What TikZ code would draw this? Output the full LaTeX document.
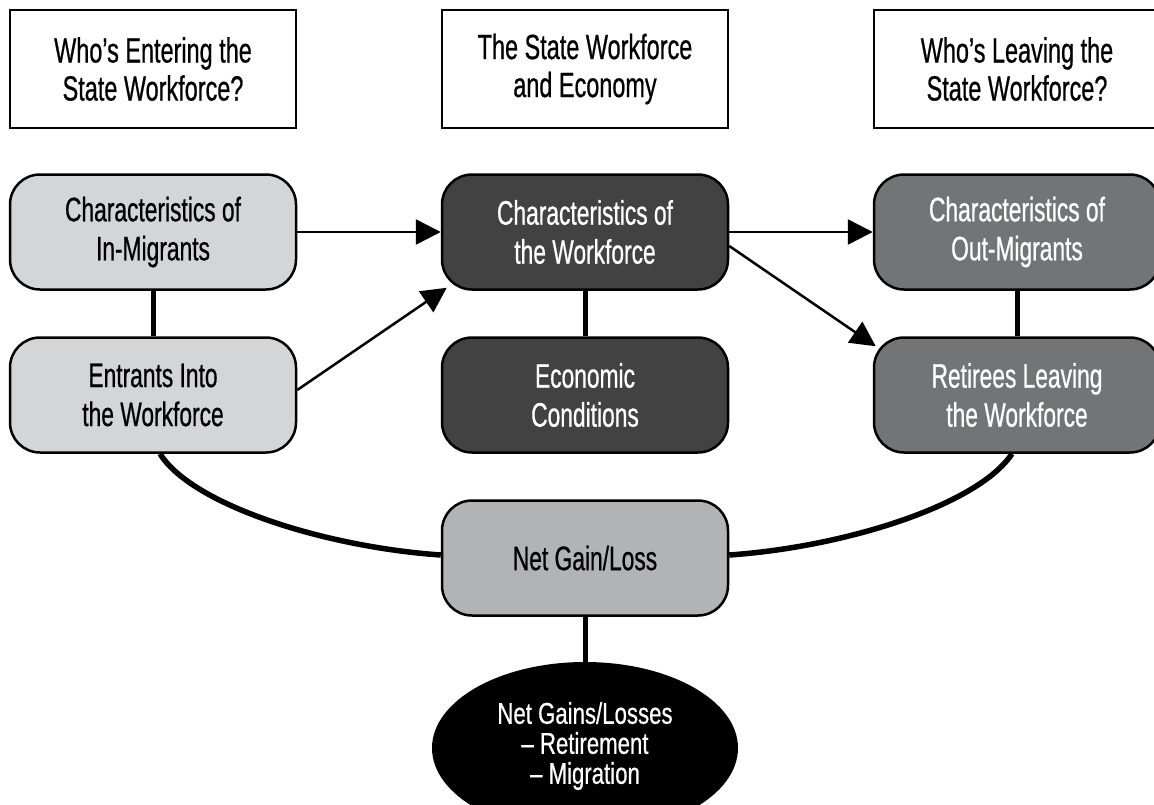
\documentclass[tikz,border=0pt]{standalone}
\usepackage{fontspec}
\setmainfont{Liberation Sans}[FakeStretch=0.67,FakeBold=0.6]
\newfontfamily\ellfont{Liberation Sans}[FakeStretch=0.74,FakeBold=0.6]
\usetikzlibrary{arrows.meta,shapes.geometric}
\definecolor{lgray}{HTML}{D4D5D7}
\definecolor{dgray}{HTML}{424242}
\definecolor{mgray}{HTML}{737476}
\definecolor{ngray}{HTML}{B1B3B5}
\begin{document}
\begin{tikzpicture}[x=1pt,y=-1pt,
  hdr/.style={draw,line width=2.5pt,fill=white,minimum width=286pt,minimum height=118pt,inner sep=0pt,align=center,font=\fontsize{35}{38}\selectfont},
  rbox/.style={draw,line width=2.5pt,rounded corners=30pt,minimum width=286pt,minimum height=115pt,inner sep=0pt,align=center,font=\fontsize{34}{39}\selectfont},
  arr/.style={line width=2.5pt,-{Triangle[length=25pt,width=25pt]}},
  link/.style={line width=5pt},
  curvelink/.style={line width=5.5pt}
]
\useasboundingbox (0,0) rectangle (1154,804);
% headers
\node[hdr] (h1) at (153,69) {Who’s Entering the\\State Workforce?};
\node[hdr] (h2) at (585,69) {The State Workforce\\and Economy};
\node[hdr] (h3) at (1017,69) {Who’s Leaving the\\State Workforce?};
% boxes
\node[rbox,fill=lgray] (inm) at (153,232) {Characteristics of\\In-Migrants};
\node[rbox,fill=lgray] (ent) at (153,395) {Entrants Into\\the Workforce};
\node[rbox,fill=dgray,text=white] (wf) at (585,232) {Characteristics of\\the Workforce};
\node[rbox,fill=dgray,text=white] (eco) at (585,395) {Economic\\Conditions};
\node[rbox,fill=mgray,text=white] (outm) at (1017,232) {Characteristics of\\Out-Migrants};
\node[rbox,fill=mgray,text=white] (ret) at (1017,395) {Retirees Leaving\\the Workforce};
\node[rbox,fill=ngray] (net) at (585,558) {Net Gain/Loss};
\node[ellipse,fill=black,minimum width=306pt,minimum height=172pt,inner sep=0pt] (ell) at (585,748) {};
\node[align=center,text=white,font=\ellfont\fontsize{30}{30}\selectfont] (elltxt) at ([yshift=2pt]ell.center) {Net Gains/Losses\\– Retirement\\– Migration};
% thick links
\draw[link] (inm) -- (ent);
\draw[link] (wf) -- (eco);
\draw[link] (outm) -- (ret);
\draw[link] (net) -- (ell);
% curves
\draw[curvelink] ([xshift=7pt]ent.south) .. controls (192,505) and (325,547) .. ([shift={(0,-3)}]net.west);
\draw[curvelink] ([xshift=-5pt]ret.south) .. controls (978,505) and (845,547) .. ([shift={(0,-3)}]net.east);
% arrows
\draw[arr] (inm.east) -- (wf.west);
\draw[arr] ([shift={(0,-5)}]ent.east) -- ([shift={(6,-3)}]wf.south west);
\draw[arr] (wf.east) -- (outm.west);
\draw[arr] ([shift={(0,14)}]wf.east) -- ([shift={(3,10)}]ret.north west);
\end{tikzpicture}
\end{document}
